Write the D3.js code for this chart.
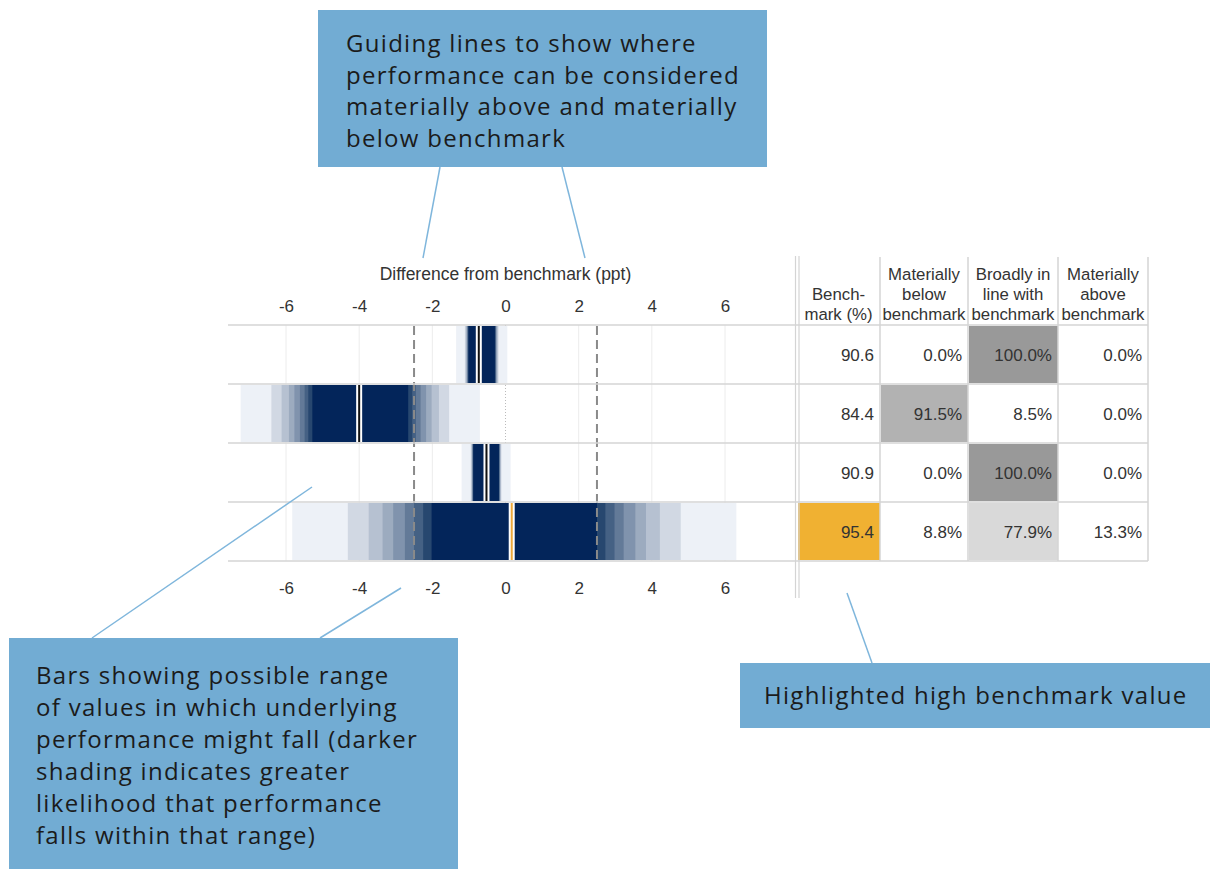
<!DOCTYPE html>
<html lang="en">
<head>
<meta charset="UTF-8">
<script src="https://cdn.jsdelivr.net/npm/d3@7"></script>
<title>Benchmark comparison</title>
<style>
    body { margin: 0; background: white; }
    svg text { font-family: Arial, "Liberation Sans", sans-serif; }
    .note text { font-family: "Open Sans", sans-serif; fill: #1b1b1b; letter-spacing: 1.3px; }
</style>
</head>
<body>
<script>
    /*------------------- data --------------------*/
    // centre of the shaded bands and point estimate per row (ppt)
    const bandCentres = [-0.65, -3.97, -0.53, 0.24];
    const estimates = [-0.73, -4.0, -0.52, 0.17];
    // half-widths of the shaded bands, widest (palest) to narrowest (darkest)
    const bandHalfWidths = [
        [0.70, 0.46, 0.44, 0.42, 0.40, 0.39, 0.38, 0.37, 0.36],
        [3.27, 2.43, 2.15, 1.95, 1.80, 1.65, 1.52, 1.42, 1.31],
        [0.67, 0.42, 0.40, 0.39, 0.38, 0.37, 0.36, 0.355, 0.35],
        [6.07, 4.55, 3.98, 3.60, 3.31, 2.99, 2.74, 2.49, 2.26]
    ];
    const benchmarks = [90.6, 84.4, 90.9, 95.4];
    const pctBelow = [0.0, 91.5, 0.0, 8.8];
    const pctInLine = [100.0, 8.5, 100.0, 77.9];
    const pctAbove = [0.0, 0.0, 0.0, 13.3];
    const xTicks = [-6, -4, -2, 0, 2, 4, 6];
    const guideValues = [-2.5, 2.5];
    const headers = [
        ["", "Bench-", "mark (%)"],
        ["Materially", "below", "benchmark"],
        ["Broadly in", "line with", "benchmark"],
        ["Materially", "above", "benchmark"]
    ];
    const notes = [
        ["Guiding lines to show where", "performance can be considered", "materially above and materially", "below benchmark"],
        ["Bars showing possible range", "of values in which underlying", "performance might fall (darker", "shading indicates greater", "likelihood that performance", "falls within that range)"],
        ["Highlighted high benchmark value"]
    ];

    /*------------------- layout --------------------*/
    const W = 1210, H = 869;
    const plotLeft = 228, plotRight = 797;
    const rowTop = 325, rowBottom = 561;
    const colEdges = [797, 880, 968, 1058, 1148];
    const shades = ["#edf1f7", "#d1d8e3", "#b6c1d1", "#9cabbf", "#8093ad", "#637a98", "#456184", "#27476f", "#03255a"];
    const lineCol = "#d4d4d4";
    const noteFill = "#72acd3", leaderCol = "#7fb6dc";

    const svg = d3.select("body").append("svg")
        .attr("width", W).attr("height", H);

    const x = d3.scaleLinear().domain([-6, 6]).range([286, 725]);
    const y = d3.scaleBand().domain(d3.range(benchmarks.length)).range([rowTop, rowBottom]);

    svg.append("clipPath").attr("id", "plotclip")
        .append("rect").attr("x", plotLeft).attr("y", rowTop)
        .attr("width", plotRight - plotLeft).attr("height", rowBottom - rowTop);

    /*------------------- grid --------------------*/
    svg.selectAll(".grid")
        .data(xTicks.filter(d => d !== 0))
        .enter().append("line")
        .attr("x1", d => x(d)).attr("x2", d => x(d))
        .attr("y1", rowTop).attr("y2", rowBottom)
        .attr("stroke", "#ececec").attr("stroke-width", 1);

    svg.append("line")
        .attr("x1", x(0)).attr("x2", x(0))
        .attr("y1", rowTop).attr("y2", rowBottom)
        .attr("stroke", "#bbb").attr("stroke-dasharray", "1,2");

    /*------------------- shaded bars --------------------*/
    const bars = svg.append("g").attr("clip-path", "url(#plotclip)");
    bandHalfWidths.forEach((hw, i) => {
        bars.selectAll(".band" + i)
            .data(hw)
            .enter().append("rect")
            .attr("x", d => x(bandCentres[i] - d))
            .attr("width", d => x(bandCentres[i] + d) - x(bandCentres[i] - d))
            .attr("y", y(i) + 1)
            .attr("height", y.bandwidth() - 2)
            .attr("fill", (d, j) => shades[j]);
    });

    // point estimate markers
    estimates.forEach((e, i) => {
        const hi = benchmarks[i] === d3.max(benchmarks);
        bars.append("rect")
            .attr("x", x(e) - 3).attr("width", 6)
            .attr("y", y(i) + 1).attr("height", y.bandwidth() - 2)
            .attr("fill", "white");
        bars.append("rect")
            .attr("x", x(e) - 1).attr("width", 2)
            .attr("y", y(i) + 1).attr("height", y.bandwidth() - 2)
            .attr("fill", hi ? "#efa93a" : "#111");
    });

    // guide lines
    svg.selectAll(".guide")
        .data(guideValues)
        .enter().append("line")
        .attr("x1", d => x(d)).attr("x2", d => x(d))
        .attr("y1", rowTop + 1).attr("y2", rowBottom)
        .attr("stroke", "#8a8a8a").attr("stroke-width", 2)
        .attr("stroke-dasharray", "9,5");

    // row separators across plot and table
    svg.selectAll(".rowline")
        .data(d3.range(benchmarks.length + 1))
        .enter().append("line")
        .attr("x1", plotLeft).attr("x2", colEdges[colEdges.length - 1])
        .attr("y1", d => rowTop + d * y.bandwidth()).attr("y2", d => rowTop + d * y.bandwidth())
        .attr("stroke", lineCol).attr("stroke-width", 1.5);

    /*------------------- axes --------------------*/
    const axTop = svg.append("g")
        .attr("transform", `translate(0,${rowTop - 10})`)
        .call(d3.axisTop(x).tickValues(xTicks).tickSize(0).tickFormat(d3.format("d")));
    const axBot = svg.append("g")
        .attr("transform", `translate(0,${rowBottom + 18})`)
        .call(d3.axisBottom(x).tickValues(xTicks).tickSize(0).tickFormat(d3.format("d")));
    [axTop, axBot].forEach(a => {
        a.select(".domain").remove();
        a.selectAll("text").attr("font-size", 17).attr("fill", "#333")
            .attr("font-family", "Arial, 'Liberation Sans', sans-serif")
            .text(d => d < 0 ? "-" + Math.abs(d) : d);
    });

    svg.append("text")
        .attr("x", x(0)).attr("y", 280)
        .attr("text-anchor", "middle")
        .attr("font-size", 17.5).attr("fill", "#333")
        .text("Difference from benchmark (ppt)");

    /*------------------- table --------------------*/
    const greyScale = d3.scaleLinear().domain([70, 100]).range(["#f0f0f0", "#999999"]).clamp(true);
    const tableCols = [benchmarks, pctBelow, pctInLine, pctAbove];

    tableCols.forEach((col, c) => {
        const x0 = colEdges[c], x1 = colEdges[c + 1];
        svg.selectAll(".cell" + c)
            .data(col)
            .enter().append("rect")
            .attr("x", x0 + 1).attr("width", x1 - x0 - 1)
            .attr("y", (d, i) => y(i) + 1).attr("height", y.bandwidth() - 2)
            .attr("fill", (d, i) => {
                if (c === 0) return d === d3.max(benchmarks) ? "#f0b132" : "white";
                return d >= 70 ? greyScale(d) : "white";
            });
        svg.selectAll(".val" + c)
            .data(col)
            .enter().append("text")
            .attr("x", x1 - 6)
            .attr("y", (d, i) => y(i) + y.bandwidth() / 2 + 6)
            .attr("text-anchor", "end")
            .attr("font-size", 17).attr("fill", "#333")
            .text(d => c === 0 ? d3.format(".1f")(d) : d3.format(".1f")(d) + "%");
        headers[c].forEach((t, k) => {
            svg.append("text")
                .attr("x", (x0 + x1) / 2).attr("y", 280 + k * 20)
                .attr("text-anchor", "middle")
                .attr("font-size", 16.8).attr("fill", "#333")
                .text(t);
        });
    });

    svg.selectAll(".colline")
        .data(colEdges.slice(1))
        .enter().append("line")
        .attr("x1", d => d).attr("x2", d => d)
        .attr("y1", 257).attr("y2", rowBottom)
        .attr("stroke", lineCol).attr("stroke-width", 1.5);
    [795.5, 799].forEach(v => {
        svg.append("line")
            .attr("x1", v).attr("x2", v).attr("y1", 256).attr("y2", 598)
            .attr("stroke", lineCol).attr("stroke-width", 1.2);
    });

    /*------------------- annotations --------------------*/
    const noteBoxes = [
        { x: 318, y: 10, w: 449, h: 157, tx: 346, ty: 52, lh: 31.5 },
        { x: 9, y: 638, w: 449, h: 240, tx: 36, ty: 684, lh: 32 },
        { x: 740, y: 663, w: 480, h: 65, tx: 764, ty: 704, lh: 32 }
    ];
    const leaders = [
        [440, 167, 423, 258], [562, 167, 585, 258],
        [92, 638, 312, 487], [320, 638, 401, 588],
        [847, 593, 872, 663]
    ];

    svg.selectAll(".leader")
        .data(leaders)
        .enter().append("line")
        .attr("x1", d => d[0]).attr("y1", d => d[1])
        .attr("x2", d => d[2]).attr("y2", d => d[3])
        .attr("stroke", leaderCol).attr("stroke-width", 1.5);

    noteBoxes.forEach((b, i) => {
        const g = svg.append("g").attr("class", "note");
        g.append("rect")
            .attr("x", b.x).attr("y", b.y).attr("width", b.w).attr("height", b.h)
            .attr("fill", noteFill);
        g.selectAll("text")
            .data(notes[i])
            .enter().append("text")
            .attr("x", b.tx).attr("y", (d, k) => b.ty + k * b.lh)
            .attr("font-size", 24)
            .text(d => d);
    });
</script>
</body>
</html>
